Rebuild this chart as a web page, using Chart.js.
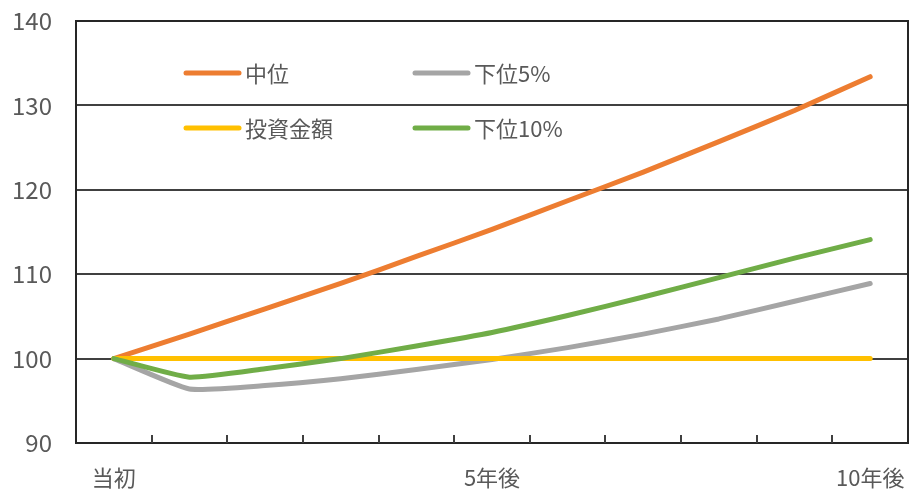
<!DOCTYPE html>
<html><head><meta charset="utf-8">
<script src="https://cdn.jsdelivr.net/npm/chart.js@4.4.1/dist/chart.umd.min.js"></script>
<style>html,body{margin:0;padding:0;background:#fff}#wrap{width:912px;height:490px}</style>
</head><body><div id="wrap"><canvas id="c" width="912" height="490"></canvas></div>
<script>
const categories = ['当初','','','','','5年後','','','','','10年後'];
const seriesNames = ['中位','下位5%','投資金額','下位10%'];
const median = [100,102.9,105.9,108.9,112.1,115.3,118.7,122.1,125.7,129.4,133.4];
const lower5 = [100,96.4,96.8,97.6,98.7,99.9,101.3,102.9,104.7,106.8,108.9];
const invested = [100,100,100,100,100,100,100,100,100,100,100];
const lower10 = [100,97.8,98.8,100.0,101.5,103.1,105.1,107.3,109.6,111.9,114.1];
const yTicks = [90,100,110,120,130,140];
const colors = ['#ED7D31','#A5A5A5','#FFC000','#70AD47'];
const FONT = '"Noto Sans CJK JP", "Noto Sans", sans-serif';
const TXT = '#595959';

const frame = {
  id:'frame',
  afterDraw(chart){
    const ctx = chart.ctx, a = chart.chartArea, xs = chart.scales.x;
    ctx.save();
    ctx.strokeStyle = '#262626'; ctx.lineWidth = 2;
    ctx.strokeRect(a.left, a.top, a.right - a.left, a.bottom - a.top);
    ctx.lineWidth = 2; ctx.strokeStyle='#404040';
    for (let i = 1; i < categories.length; i++) {
      const x = Math.round((xs.getPixelForValue(i-1) + xs.getPixelForValue(i)) / 2);
      ctx.beginPath(); ctx.moveTo(x, a.bottom); ctx.lineTo(x, a.bottom - 8); ctx.stroke();
    }
    ctx.restore();
  },
  afterDatasetsDraw(chart){
    const ctx = chart.ctx;
    const pos = [[184,73],[413,73],[184,128],[413,128]];
    ctx.save();
    ctx.font = '22px ' + FONT;
    ctx.textBaseline = 'middle';
    ctx.lineCap = 'round';
    chart.data.datasets.forEach((ds,i)=>{
      const [x,y] = pos[i];
      ctx.strokeStyle = ds.borderColor; ctx.lineWidth = 5;
      ctx.beginPath(); ctx.moveTo(x+2,y); ctx.lineTo(x+55,y); ctx.stroke();
      ctx.fillStyle = TXT;
      ctx.fillText(ds.label, x+61, y+1);
    });
    ctx.restore();
  }
};

const dataSets = [median, lower5, invested, lower10];
new Chart(document.getElementById('c'), {
  type:'line',
  data:{
    labels: categories,
    datasets: dataSets.map((d,i)=>({
      label: seriesNames[i], data: d, borderColor: colors[i], backgroundColor: colors[i],
      borderWidth: 5, pointRadius: 0, tension: 0.15, borderCapStyle:'round', borderJoinStyle:'round',
      order: 4 - i, fill:false
    }))
  },
  options:{
    responsive:false, animation:false, devicePixelRatio:1,
    layout:{padding:{top:21,right:4,left:0,bottom:0}},
    plugins:{legend:{display:false}, tooltip:{enabled:false}},
    scales:{
      x:{
        offset:true,
        grid:{display:false, drawTicks:false},
        border:{display:false},
        ticks:{autoSkip:false, maxRotation:0, padding:21, color:TXT, font:{family:FONT, size:22},
          callback:(v,i)=>categories[i]},
        afterFit(s){ s.height = 47; s.paddingLeft = 0; s.paddingRight = 0; }
      },
      y:{
        min:90, max:140,
        afterBuildTicks(s){ s.ticks = yTicks.map(v=>({value:v})); },
        grid:{color:'#404040', lineWidth:2, drawTicks:false},
        border:{display:false},
        ticks:{padding:24, color:TXT, font:{family:FONT, size:24}},
        afterFit(s){ s.width = 76; s.paddingTop = 0; s.paddingBottom = 0; }
      }
    }
  },
  plugins:[frame]
});
</script></body></html>
